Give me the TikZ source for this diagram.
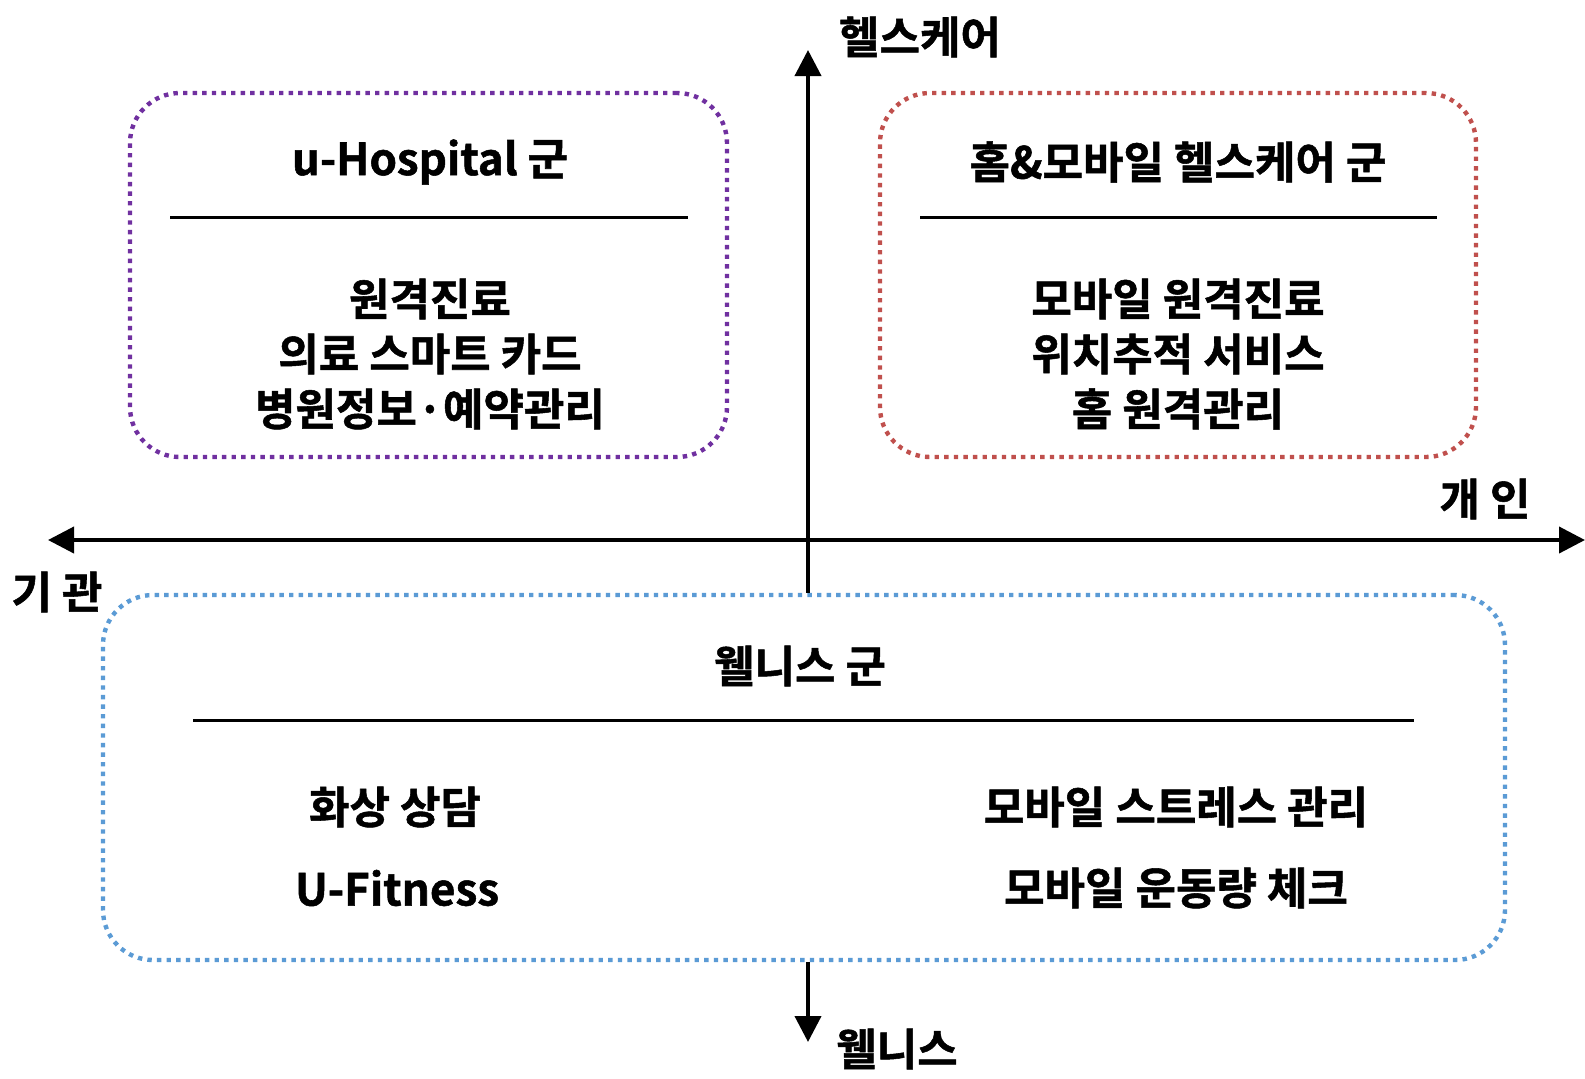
\documentclass[tikz,border=0pt]{standalone}
\usepackage{fontspec}
\setmainfont{Noto Sans CJK KR Bold}[FakeBold=1.2]
\usetikzlibrary{arrows.meta}
\definecolor{cpurple}{HTML}{7030A0}
\definecolor{cred}{HTML}{C0504D}
\definecolor{cblue}{HTML}{5B9BD5}
\tikzset{
  grpbox/.style={rounded corners=25pt, line width=2.2pt, dash pattern=on 2.2pt off 2.6pt, inner sep=0pt},
  axisline/.style={line width=2pt, -{Triangle[length=13pt,width=13pt]}},
  sepline/.style={line width=1.5pt},
  lbl/.style={font=\fontsize{22}{26}\selectfont, inner sep=0pt, align=center},
}
\begin{document}
\begin{tikzpicture}[x=0.5pt,y=-0.5pt]
\useasboundingbox (0,0) rectangle (1585,1078);
% boxes
\node[grpbox, draw=cpurple, minimum width=298.5pt, minimum height=182pt] (hosp) at (428.5,275) {};
\node[grpbox, draw=cred, minimum width=298pt, minimum height=182pt] (home) at (1178,275) {};
\node[grpbox, draw=cblue, minimum width=701pt, minimum height=182.5pt] (well) at (804,777.5) {};
% axes
\coordinate (vtop) at (808,50);
\coordinate (vbot) at (808,1042);
\coordinate (hleft) at (48,540);
\coordinate (hright) at (1585,540);
\coordinate (hmid) at (808,540);
\draw[axisline] (well.north -| vtop) -- (vtop);
\draw[axisline] (well.south -| vbot) -- (vbot);
\draw[axisline] (hmid) -- (hleft);
\draw[axisline] (hmid) -- (hright);
% axis labels
\node[lbl] (lhc) at (920,37) {헬스케어};
\node[lbl] (lind) at (1485,499) {개 인};
\node[lbl] (linst) at (57,592) {기 관};
\node[lbl] (lwell) at (897,1049) {웰니스};
% u-Hospital
\node[lbl] (t1) at (430,162) {u-Hospital 군};
\coordinate (s1a) at (170,217); \coordinate (s1b) at (688,217);
\draw[sepline] (s1a) -- (s1b);
\node[lbl] (a1) at (430,299) {원격진료};
\node[lbl] (a2) at (430,354) {의료 스마트 카드};
\node[lbl] (a3) at (430,409) {병원정보·예약관리};
% home & mobile
\node[lbl] (t2) at (1178,162) {홈\&모바일 헬스케어 군};
\coordinate (s2a) at (920,217); \coordinate (s2b) at (1437,217);
\draw[sepline] (s2a) -- (s2b);
\node[lbl] (b1) at (1178,299) {모바일 원격진료};
\node[lbl] (b2) at (1178,354) {위치추적 서비스};
\node[lbl] (b3) at (1178,409) {홈 원격관리};
% wellness
\node[lbl] (t3) at (800,666) {웰니스 군};
\coordinate (s3a) at (193,720); \coordinate (s3b) at (1414,720);
\draw[sepline] (s3a) -- (s3b);
\node[lbl] (c1) at (395,807) {화상 상담};
\node[lbl] (c2) at (397,888) {U-Fitness};
\node[lbl] (c3) at (1176,807) {모바일 스트레스 관리};
\node[lbl] (c4) at (1176,888) {모바일 운동량 체크};
\end{tikzpicture}
\end{document}
